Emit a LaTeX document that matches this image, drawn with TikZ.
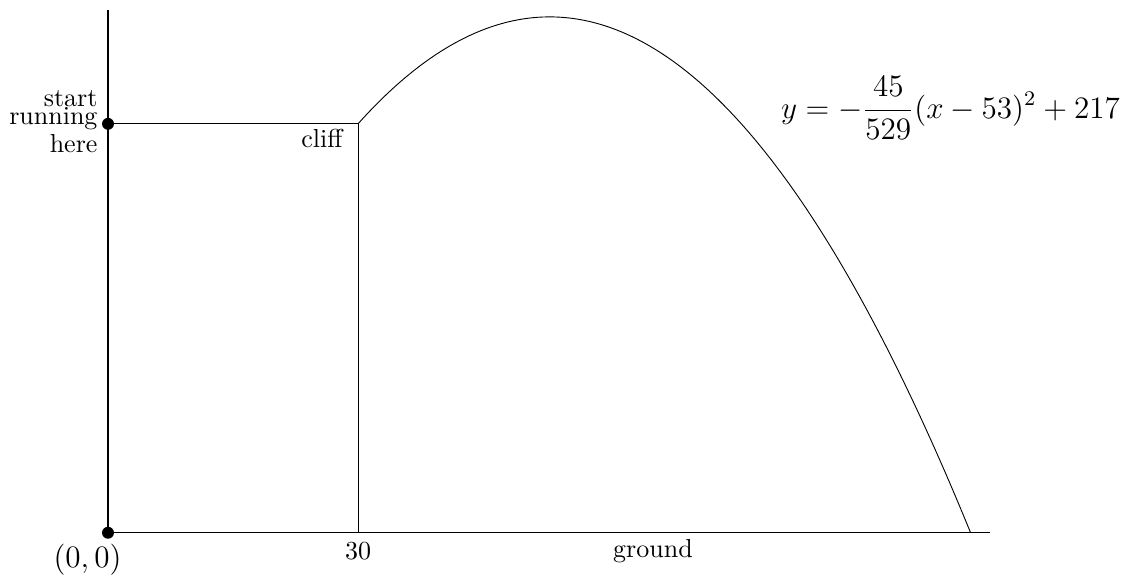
\documentclass[tikz,border=0pt]{standalone}
\usepackage{amsmath}
\usetikzlibrary{positioning}

\begin{document}
\begin{tikzpicture}[x=0.1127cm, y=0.03215cm,
    axisline/.style={line width=0.5pt},
    cliffline/.style={line width=0.35pt},
    dotmark/.style={circle,fill=black,inner sep=0pt,minimum size=4.6pt},
    lbl/.style={inner sep=0pt}]
  \useasboundingbox (-12.96,-18.08) rectangle (123.0,224.1);
  % axes
  \coordinate (O) at (0,0);
  \coordinate (ytop) at (0,220);
  \coordinate (xend) at (105.8,0);
  \draw[axisline] (O) -- (ytop);
  \draw[axisline] (O) -- (xend);
  % cliff
  \coordinate (cliffbase) at (30,0);
  \coordinate (clifftop) at (30,172);
  \node[dotmark] (origin) at (O) {};
  \node[dotmark] (start) at (0,172) {};
  \draw[cliffline] (start) -- (clifftop) -- (cliffbase);
  % trajectory
  \draw[cliffline, domain=30:103.5, samples=120]
    plot (\x, {-45/529*(\x-53)^2+217});
  % labels
  \node[lbl, anchor=base east] (running) at (-1.2,171.6) {running};
  \node[lbl, anchor=base east] (startlbl) at (-1.2,179.2) {start};
  \node[lbl, anchor=base east] (here) at (-1.2,159.8) {here};
  \node[lbl, anchor=base east] (clifflbl) at (28.2,161.9) {cliff};
  \node[lbl, anchor=base] (thirty) at (30,-11.35) {30};
  \node[lbl, anchor=base] (originlbl) at (-2.46,-14.7) {\large $(0,0)$};
  \node[lbl, anchor=base] (ground) at (65.4,-10.5) {ground};
  \node[lbl, anchor=west] (eqn) at (80.7,178.6)
    {\large $\displaystyle y=-\frac{45}{529}(x-53)^2+217$};
\end{tikzpicture}
\end{document}
